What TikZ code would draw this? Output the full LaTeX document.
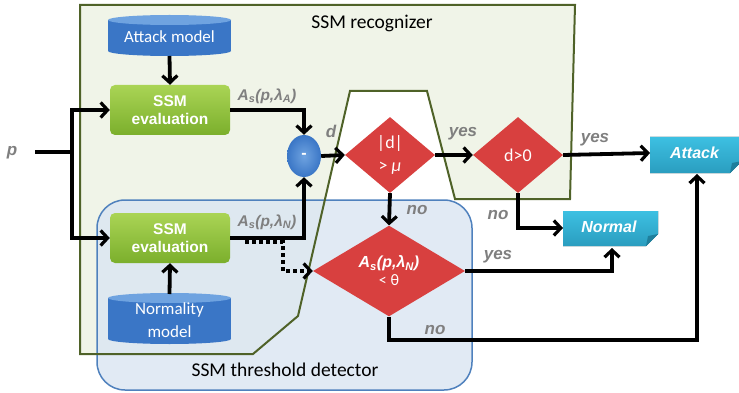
\documentclass[tikz,border=0pt]{standalone}
\usepackage{fontspec}
\setmainfont{Carlito}
\newfontfamily\arialf{Liberation Sans}
\usetikzlibrary{shapes.geometric,arrows.meta,calc}
\definecolor{grnfill}{HTML}{F0F4E8}
\definecolor{grnline}{HTML}{4F6228}
\definecolor{blufill}{HTML}{DCE6F2}
\definecolor{bluline}{HTML}{4F81BD}
\definecolor{cylcol}{HTML}{3A76C6}
\definecolor{cyltop}{HTML}{6FA3E0}
\definecolor{evtop}{HTML}{AAD455}
\definecolor{evbot}{HTML}{7BAF2C}
\definecolor{diacol}{HTML}{D8403F}
\definecolor{outtop}{HTML}{3DC0E2}
\definecolor{outbot}{HTML}{2A9DBF}
\definecolor{outfold}{HTML}{1F7F9C}
\definecolor{lblgray}{HTML}{7F7F7F}
\newcommand\mycyl[4]{%
  \fill[cylcol] (#1,#3) rectangle (#2,#4);
  \fill[cylcol] ({(#1+#2)/2},#4) ellipse[x radius={(#2-#1)/2},y radius=5];
  \fill[cyltop] ({(#1+#2)/2},#3) ellipse[x radius={(#2-#1)/2},y radius=5];}
\newcommand\mynote[5]{%
  \fill[top color=outtop,bottom color=outbot] (#1,#2) -- (#3,#2) -- (#3,#4-#5) -- (#3-#5,#4) -- (#1,#4) -- cycle;
  \fill[outfold] (#3,#4-#5) -- (#3-#5,#4) -- (#3-#5+2,#4-#5+2) -- cycle;}
\tikzset{
  arr/.style={line width=3.8pt,-{Straight Barb[length=7pt,width=15pt,line width=3.2pt]}},
  dotarr/.style={line width=3.8pt,dash pattern=on 4pt off 3pt,-{Straight Barb[length=7pt,width=15pt,line width=3.2pt]}},
  evalbox/.style={rounded corners=5pt,top color=evtop,bottom color=evbot,minimum width=120pt,minimum height=50pt,
     text=white,font=\arialf\bfseries\fontsize{15.5}{18}\selectfont,align=center,inner sep=0pt},
  cyltext/.style={text=white,font=\fontsize{17}{19}\selectfont,align=center,minimum width=123pt,inner sep=0pt},
  dia/.style={diamond,fill=diacol,inner sep=0pt,text=white,align=center,font=\fontsize{18}{20}\selectfont},
  outtext/.style={text=white,font=\arialf\bfseries\itshape\fontsize{16}{18}\selectfont,inner sep=0pt},
  lbl/.style={text=lblgray,font=\arialf\bfseries\itshape\fontsize{17}{19}\selectfont,inner sep=0pt},
  albl/.style={text=lblgray,font=\arialf\bfseries\itshape\fontsize{15.5}{17}\selectfont,inner sep=0pt},
  regtext/.style={font=\fontsize{19.5}{21}\selectfont,inner sep=0pt}
}
\begin{document}
\begin{tikzpicture}[x=1pt,y=-1pt]
\useasboundingbox (0,0) rectangle (739,393);
% regions
\fill[grnfill] (80,5) -- (575,5) -- (570,199) -- (455,199) -- (427,91) -- (350,91) -- (298,316) -- (253,354) -- (80,354) -- cycle;
\fill[blufill,opacity=0.85,rounded corners=28pt] (97,200) rectangle (472,390);
\draw[bluline,line width=1.5pt,rounded corners=28pt] (97,200) rectangle (472,390);
\draw[grnline,line width=2pt] (80,5) -- (575,5) -- (570,199) -- (455,199) -- (427,91) -- (350,91) -- (298,316) -- (253,354) -- (80,354) -- cycle;
\node[regtext] (recog) at (372,23) {SSM recognizer};
\node[regtext] (thresh) at (285,370) {SSM threshold detector};
% cylinders
\mycyl{108}{231}{20}{51}
\node[cyltext,minimum height=36pt] (attackm) at (169.5,37) {Attack model};
\mycyl{108}{231}{298}{339}
\node[cyltext,font=\fontsize{17}{23}\selectfont,minimum height=46pt] (normm) at (169.5,320) {Normality\\model};
% evaluation boxes
\node[evalbox] (eval1) at (170,110) {SSM\\evaluation};
\node[evalbox] (eval2) at (170,238) {SSM\\evaluation};
% minus
\node[ellipse,minimum width=34pt,minimum height=42pt,inner sep=0pt,inner color=cyltop,outer color=cylcol,text=white,font=\arialf\bfseries\fontsize{16}{18}\selectfont] (minus) at (304,156) {-};
% diamonds
\node[dia,minimum width=90pt,minimum height=76pt] (d1) at (390,155) {|d|\\[3pt]> \textit{μ}};
\node[dia,minimum width=90pt,minimum height=76pt] (d2) at (518,155) {d>0};
\node[dia,minimum width=152pt,minimum height=87pt,font=\fontsize{16}{18}\selectfont] (d3) at (389,271)
   {{\arialf\bfseries\itshape A\textsubscript{s}(p,λ\textsubscript{N})}\\< θ};
% outputs
\mynote{650}{137}{742}{173}{12}
\node[outtext] (attack) at (694.5,153) {Attack};
\coordinate (attackb) at (697,174);
\mynote{563}{211}{658}{246}{12}
\node[outtext] (normal) at (609,227) {Normal};
\coordinate (normalb) at (612,248);
\coordinate (normalw) at (563,228);
% input
\node[lbl] (p) at (12,153) {p};
\coordinate (ps) at (35,152);
\coordinate (pj) at (72,152);
\draw[line width=3.8pt] (ps) -- (pj);
\draw[arr] (pj) |- (eval1.west);
\draw[arr] (pj) |- (eval2.west);
\draw[arr] (attackm.south |- 0,56) -- (eval1.north);
\draw[arr] (normm.north |- 0,294) -- (eval2.south);
\draw[arr] (eval1.east) -| (minus.north);
\draw[arr] (eval2.east) -| (minus.south);
\coordinate (dots) at (245,242);
\draw[dotarr] (dots) -- (283,242) |- (d3.west);
\draw[arr] (minus.east) -- (d1.west);
\draw[arr] (d1.east) -- (d2.west);
\draw[arr] (d2.east) -- (attack.west -| 650,0);
\draw[arr] (d1.south) -- (d3.north);
\draw[arr] (d2.south) |- (normalw);
\draw[arr] (d3.east) -| (normalb);
\coordinate (ac) at (697,340);
\draw[arr] (d3.south) |- (ac) -- (attackb);
% labels
\node[albl] (la) at (267,96) {A\textsubscript{s}(p,λ\textsubscript{A})};
\node[albl] (ln) at (267,222) {A\textsubscript{s}(p,λ\textsubscript{N})};
\node[lbl] (ld) at (331,131) {d};
\node[lbl] (y1) at (463,134) {yes};
\node[lbl] (y2) at (595,140) {yes};
\node[lbl] (n1) at (417,210) {no};
\node[lbl] (n2) at (498,215) {no};
\node[lbl] (y3) at (498,257) {yes};
\node[lbl] (n3) at (435,330) {no};
\end{tikzpicture}
\end{document}
